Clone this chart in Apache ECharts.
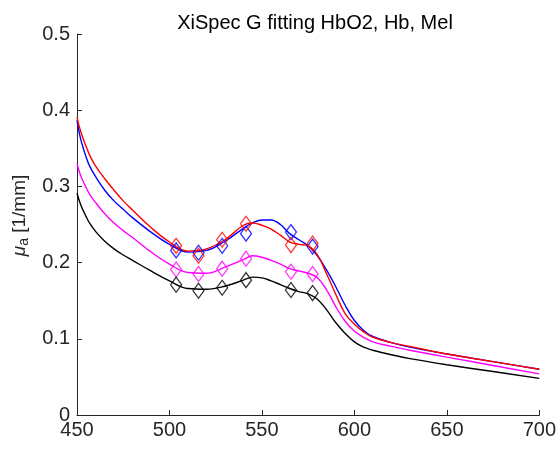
<!DOCTYPE html>
<html>
<head>
<meta charset="utf-8">
<script src="https://cdn.jsdelivr.net/npm/echarts@6/dist/echarts.min.js"></script>
<style>
  html, body { margin: 0; padding: 0; background: #fff; }
  #chart { width: 559px; height: 451px; }
</style>
</head>
<body>
<div id="chart"></div>
<script>
// wavelength grid of the fitted curves (nm)
var wl = [450, 452, 455, 457, 460, 465, 470, 475, 480, 490, 500, 510, 520, 530, 540, 545, 550, 555, 560, 565, 570, 575, 580, 585, 590, 595, 600, 605, 610, 620, 630, 650, 675, 700];

// fitted curves mu_a [1/mm]
var redFit = [0.391, 0.372, 0.352, 0.340, 0.327, 0.310, 0.295, 0.281, 0.269, 0.246, 0.227, 0.215, 0.218, 0.230, 0.249, 0.252, 0.249, 0.244, 0.236, 0.227, 0.224, 0.222, 0.210, 0.185, 0.158, 0.133, 0.119, 0.109, 0.102, 0.095, 0.090, 0.080, 0.070, 0.060];
var blueFit = [0.387, 0.362, 0.338, 0.326, 0.313, 0.295, 0.281, 0.270, 0.259, 0.240, 0.224, 0.214, 0.216, 0.228, 0.245, 0.252, 0.256, 0.256, 0.250, 0.238, 0.230, 0.222, 0.209, 0.190, 0.168, 0.144, 0.124, 0.111, 0.103, 0.095, 0.089, 0.080, 0.070, 0.060];
var magentaFit = [0.330, 0.314, 0.298, 0.289, 0.279, 0.264, 0.252, 0.242, 0.233, 0.214, 0.198, 0.187, 0.186, 0.194, 0.204, 0.209, 0.207, 0.203, 0.198, 0.192, 0.189, 0.186, 0.180, 0.164, 0.142, 0.123, 0.110, 0.102, 0.096, 0.090, 0.085, 0.076, 0.065, 0.054];
var blackFit = [0.291, 0.276, 0.260, 0.251, 0.241, 0.228, 0.218, 0.210, 0.203, 0.189, 0.176, 0.166, 0.165, 0.169, 0.177, 0.181, 0.180, 0.176, 0.171, 0.166, 0.162, 0.159, 0.152, 0.138, 0.121, 0.107, 0.096, 0.089, 0.085, 0.079, 0.074, 0.066, 0.057, 0.048];

// measured points (diamonds)
var markWl = [503.6, 515.7, 528.5, 541.4, 565.7, 577.4];
var redPts = [0.222, 0.209, 0.230, 0.251, 0.223, 0.225];
var bluePts = [0.216, 0.213, 0.222, 0.238, 0.240, 0.221];
var magentaPts = [0.191, 0.185, 0.192, 0.205, 0.188, 0.185];
var blackPts = [0.171, 0.163, 0.167, 0.177, 0.164, 0.160];

function pairs(xs, ys) {
    var out = [];
    for (var i = 0; i < xs.length; i++) {
        out.push([xs[i], ys[i]]);
    }
    return out;
}

function lineSeries(ys, color) {
    return {
        type: 'line',
        data: pairs(wl, ys),
        smooth: 0.4,
        showSymbol: false,
        lineStyle: { color: color, width: 1.4 },
        z: 2
    };
}

function pointSeries(ys, color) {
    return {
        type: 'scatter',
        data: pairs(markWl, ys),
        symbol: 'diamond',
        symbolSize: [11, 15],
        itemStyle: { color: 'transparent', borderColor: color, borderWidth: 1.3 },
        z: 3
    };
}

var axisColor = '#262626';
var myChart = echarts.init(document.getElementById('chart'));

var option = {
    backgroundColor: '#fff',
    animation: false,
    title: {
        text: 'XiSpec G fitting HbO2, Hb, Mel',
        left: 310,
        textAlign: 'center',
        top: 8,
        textStyle: { fontFamily: 'Liberation Sans', fontSize: 20, fontWeight: 'normal', color: '#000' }
    },
    grid: { left: 77, right: 19, top: 34, bottom: 36 },
    xAxis: {
        type: 'value',
        min: 450,
        max: 700,
        interval: 50,
        axisLine: { lineStyle: { color: axisColor, width: 1 } },
        axisTick: { inside: true, length: 5, lineStyle: { color: axisColor } },
        axisLabel: { fontFamily: 'Liberation Sans', fontSize: 20, color: axisColor, margin: 5 },
        splitLine: { show: false }
    },
    yAxis: {
        type: 'value',
        min: 0,
        max: 0.5,
        interval: 0.1,
        name: '{mu|μ}{sub|a}{txt| [1/mm]}',
        nameLocation: 'middle',
        nameRotate: 90,
        nameGap: 42,
        nameTextStyle: {
            padding: [0, 0, 0, 18],
            rich: {
                mu: { fontFamily: 'Liberation Sans', fontSize: 19, fontStyle: 'italic', color: axisColor },
                sub: { fontFamily: 'Liberation Sans', fontSize: 14, color: axisColor, verticalAlign: 'bottom', padding: [10, 0, 0, 0] },
                txt: { fontFamily: 'Liberation Sans', fontSize: 19, color: axisColor }
            }
        },
        axisLine: { show: true, lineStyle: { color: axisColor, width: 1 } },
        axisTick: { show: true, inside: true, length: 5, lineStyle: { color: axisColor } },
        axisLabel: { fontFamily: 'Liberation Sans', fontSize: 20, color: axisColor, margin: 7 },
        splitLine: { show: false }
    },
    series: [
        lineSeries(blueFit, '#0000ff'),
        lineSeries(redFit, '#ff0000'),
        lineSeries(magentaFit, '#ff00ff'),
        lineSeries(blackFit, '#000000'),
        pointSeries(bluePts, '#0000ff'),
        pointSeries(redPts, '#ff0000'),
        pointSeries(magentaPts, '#ff00ff'),
        pointSeries(blackPts, '#000000')
    ]
};

myChart.setOption(option);
</script>
</body>
</html>
